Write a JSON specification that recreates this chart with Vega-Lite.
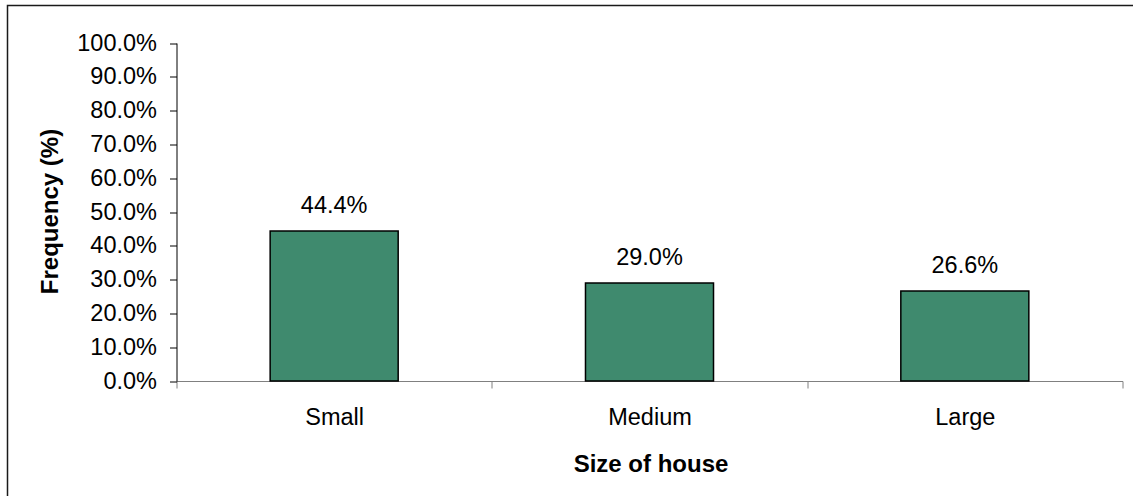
{
  "$schema": "https://vega.github.io/schema/vega-lite/v6.json",
  "width": 1140,
  "height": 500,
  "autosize": {"type": "none"},
  "padding": {"left": 7.5, "top": 5.5, "right": -14.5, "bottom": -9.5},
  "background": "white",
  "config": {
    "font": "Liberation Sans",
    "view": {"stroke": "#1a1a1a", "strokeWidth": 1.5}
  },
  "data": {
    "values": [
      {"size": "Small", "share": 0.444},
      {"size": "Medium", "share": 0.290},
      {"size": "Large", "share": 0.266}
    ]
  },
  "encoding": {
    "x": {
      "field": "size",
      "type": "nominal",
      "sort": null,
      "scale": {"range": [169, 1115], "paddingInner": 0, "paddingOuter": 0},
      "axis": {
        "orient": "bottom",
        "offset": -124.5,
        "title": "Size of house",
        "titleFont": "Liberation Sans",
        "titleFontSize": 24,
        "titleFontWeight": "bold",
        "titleColor": "#000",
        "titleX": 643,
        "titleY": 90.5,
        "titleAlign": "center",
        "titleBaseline": "alphabetic",
        "labelAngle": 0,
        "labelFont": "Liberation Sans",
        "labelFontSize": 23.5,
        "labelColor": "#000",
        "labelBaseline": "alphabetic",
        "labelPadding": 36,
        "tickBand": "extent",
        "tickSize": 7,
        "tickColor": "#808080",
        "domainColor": "#808080",
        "domainWidth": 1,
        "grid": false
      }
    },
    "y": {
      "field": "share",
      "type": "quantitative",
      "scale": {"domain": [0, 1], "range": [375.5, 37.5], "nice": false, "zero": true},
      "axis": {
        "orient": "left",
        "offset": -169,
        "values": [0, 0.1, 0.2, 0.3, 0.4, 0.5, 0.6, 0.7, 0.8, 0.9, 1],
        "format": ".1%",
        "grid": false,
        "domainColor": "#000",
        "domainWidth": 1,
        "tickColor": "#000",
        "tickSize": 7,
        "labelPadding": 13,
        "labelFont": "Liberation Sans",
        "labelFontSize": 23.5,
        "labelColor": "#000",
        "title": "Frequency (%)",
        "titleFont": "Liberation Sans",
        "titleFontSize": 24,
        "titleFontWeight": "bold",
        "titleColor": "#000",
        "titleAngle": 270,
        "titleAlign": "center",
        "titleBaseline": "middle",
        "titleX": -126.5,
        "titleY": 205.5
      }
    }
  },
  "layer": [
    {
      "mark": {"type": "bar", "width": {"band": 0.406}, "fill": "#3f8a6e", "stroke": "#000", "strokeWidth": 1.5}
    },
    {
      "mark": {
        "type": "text",
        "baseline": "alphabetic",
        "align": "center",
        "dy": -18,
        "font": "Liberation Sans",
        "fontSize": 23.5,
        "color": "#000"
      },
      "encoding": {
        "text": {"field": "share", "type": "quantitative", "format": ".1%"}
      }
    }
  ]
}
